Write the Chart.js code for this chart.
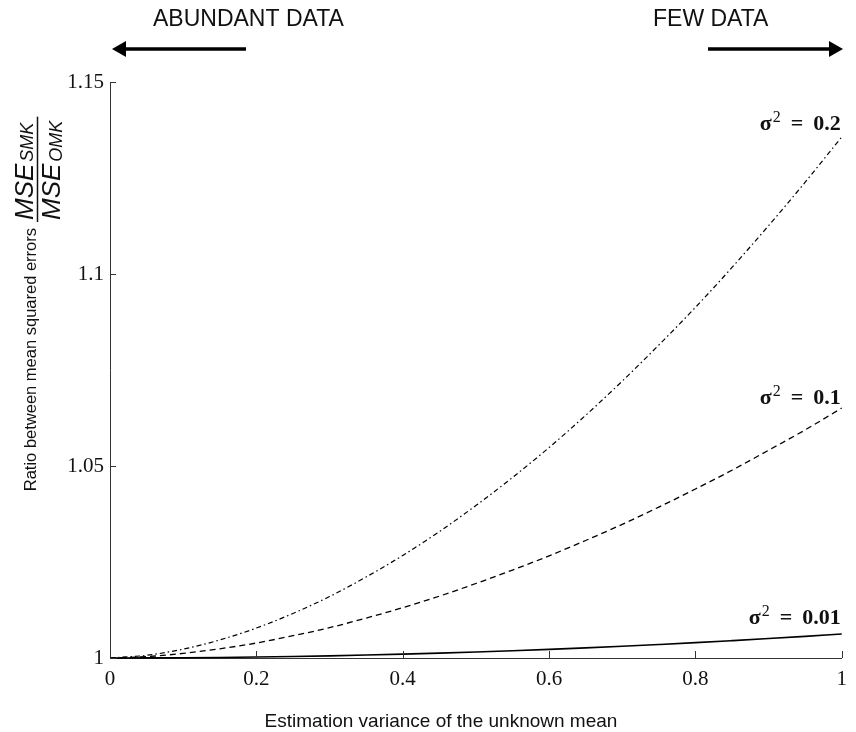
<!DOCTYPE html>
<html><head><meta charset="utf-8">
<script src="https://cdn.jsdelivr.net/npm/chart.js@4.4.1/dist/chart.umd.min.js"></script>
<style>html,body{margin:0;padding:0;background:#fff}#wrap{width:856px;height:732px;position:relative}</style>
</head><body><div id="wrap"><canvas id="c" width="856" height="732"></canvas></div>
<script>
// ---- data ----
const xValues = [0,0.05,0.1,0.15,0.2,0.25,0.3,0.35,0.4,0.45,0.5,0.55,0.6,0.65,0.7,0.75,0.8,0.85,0.9,0.95,1];
const ratioSigma02 = [1.0000,1.0007,1.0023,1.0047,1.0078,1.0116,1.0160,1.0211,1.0267,1.0329,1.0397,1.0470,1.0548,1.0632,1.0721,1.0815,1.0913,1.1017,1.1126,1.1239,1.1357];
const ratioSigma01 = [1.0000,1.00035,1.0012,1.0024,1.0039,1.0058,1.0079,1.0104,1.0131,1.0161,1.0194,1.0229,1.0266,1.0306,1.0348,1.0393,1.0440,1.0489,1.0541,1.0594,1.0651];
const ratioSigma001 = [1.0000,1.00002,1.00006,1.00014,1.00025,1.00039,1.00056,1.00077,1.0010,1.00127,1.00156,1.00189,1.00225,1.00264,1.00306,1.00352,1.0040,1.00452,1.00506,1.00564,1.00625];
const seriesSigmaValues = ['0.2','0.1','0.01'];
const xTickValues = [0,0.2,0.4,0.6,0.8,1];
const yTickValues = [1,1.05,1.1,1.15];
const xTitle = 'Estimation variance of the unknown mean';
const yTitle = 'Ratio between mean squared errors';
const leftNote = 'ABUNDANT DATA';
const rightNote = 'FEW DATA';

const pts = arr => xValues.map((x,i)=>({x:x,y:arr[i]}));
const INK = '#111';
const SERIF = '"Liberation Serif", "Times New Roman", serif';
const SANS = '"Liberation Sans", Arial, sans-serif';

const fmt = v => String(parseFloat(Number(v).toFixed(2)));

function drawSigmaLabel(ctx, rightX, baseline, val){
  ctx.save();
  ctx.fillStyle = INK;
  ctx.textBaseline = 'alphabetic';
  ctx.textAlign = 'left';
  const big = 'bold 22px ' + SERIF;
  const sup = '16px ' + SERIF;
  ctx.font = big;
  const wNum = ctx.measureText(val).width;
  const wEq = ctx.measureText('=').width;
  const wSig = ctx.measureText('σ').width;
  ctx.font = sup;
  const wSup = ctx.measureText('2').width;
  const gap = 10;
  let x = rightX - wNum;
  ctx.font = big; ctx.fillText(val, x, baseline);
  x -= gap + wEq; ctx.fillText('=', x, baseline);
  x -= gap + wSup; ctx.font = sup; ctx.fillText('2', x, baseline - 8);
  x -= wSig + 1; ctx.font = big; ctx.fillText('σ', x, baseline);
  ctx.restore();
}

function arrow(ctx, x1, x2, y, headLeft){
  ctx.save();
  ctx.strokeStyle = '#000'; ctx.fillStyle = '#000'; ctx.lineWidth = 3.5;
  const hl = 14, hh = 8;
  ctx.beginPath();
  if (headLeft){ ctx.moveTo(x1 + hl - 2, y); ctx.lineTo(x2, y); }
  else { ctx.moveTo(x1, y); ctx.lineTo(x2 - hl + 2, y); }
  ctx.stroke();
  ctx.beginPath();
  if (headLeft){ ctx.moveTo(x1, y); ctx.lineTo(x1 + hl, y - hh); ctx.lineTo(x1 + hl, y + hh); }
  else { ctx.moveTo(x2, y); ctx.lineTo(x2 - hl, y - hh); ctx.lineTo(x2 - hl, y + hh); }
  ctx.closePath(); ctx.fill();
  ctx.restore();
}

const decor = {
  id: 'decor',
  afterDraw(chart){
    const ctx = chart.ctx;
    const xs = chart.scales.x, ys = chart.scales.y;
    const ca = chart.chartArea;
    ctx.save();
    // inward tick marks
    ctx.strokeStyle = '#333'; ctx.lineWidth = 1;
    ctx.beginPath();
    yTickValues.forEach(v => { const p = Math.round(ys.getPixelForValue(v)) + 0.5; ctx.moveTo(ca.left, p); ctx.lineTo(ca.left + 6, p); });
    xTickValues.forEach(v => { const p = Math.round(xs.getPixelForValue(v)) + 0.5; ctx.moveTo(p, ca.bottom); ctx.lineTo(p, ca.bottom - 7); });
    ctx.stroke();

    // x title
    ctx.fillStyle = INK;
    ctx.font = '19px ' + SANS;
    ctx.textAlign = 'center'; ctx.textBaseline = 'alphabetic';
    ctx.fillText(xTitle, 441, 727);

    // top notes + arrows
    ctx.font = '23px ' + SANS;
    ctx.textAlign = 'left'; ctx.textBaseline = 'alphabetic';
    ctx.fillText(leftNote, 153, 26);
    ctx.fillText(rightNote, 653, 26);
    arrow(ctx, 112, 246, 49, true);
    arrow(ctx, 708, 843, 49, false);

    // y title (rotated) with fraction
    ctx.save();
    ctx.rotate(-Math.PI / 2);
    ctx.fillStyle = INK;
    ctx.font = '16.5px ' + SANS;
    ctx.textAlign = 'right'; ctx.textBaseline = 'alphabetic';
    ctx.fillText(yTitle, -228, 36);
    // fraction
    ctx.textAlign = 'left';
    ctx.font = 'italic 26px ' + SANS;
    const wM = ctx.measureText('MSE').width;
    ctx.font = 'italic 18px ' + SANS;
    const wS = Math.max(ctx.measureText('SMK').width, ctx.measureText('OMK').width);
    const u0 = -222, u1 = u0 + wM + wS + 8;
    ctx.strokeStyle = '#111'; ctx.lineWidth = 1.5;
    ctx.beginPath(); ctx.moveTo(u0, 37.5); ctx.lineTo(u1, 37.5); ctx.stroke();
    ctx.font = 'italic 26px ' + SANS;
    ctx.fillText('MSE', u0 + 2, 33);
    ctx.fillText('MSE', u0 + 2, 60);
    ctx.font = 'italic 18px ' + SANS;
    ctx.fillText('SMK', u0 + 4 + wM, 33);
    ctx.fillText('OMK', u0 + 4 + wM, 62);
    ctx.restore();

    // curve labels
    const xr = xs.getPixelForValue(1);
    drawSigmaLabel(ctx, xr - 1, ys.getPixelForValue(ratioSigma02[ratioSigma02.length-1]) - 7, seriesSigmaValues[0]);
    drawSigmaLabel(ctx, xr - 1, ys.getPixelForValue(ratioSigma01[ratioSigma01.length-1]) - 4, seriesSigmaValues[1]);
    drawSigmaLabel(ctx, xr - 1, ys.getPixelForValue(ratioSigma001[ratioSigma001.length-1]) - 10, seriesSigmaValues[2]);
    ctx.restore();
  }
};

const lineBase = { pointRadius: 0, borderColor: '#000', fill: false, cubicInterpolationMode: 'monotone', clip: false };

new Chart(document.getElementById('c'), {
  type: 'line',
  data: {
    datasets: [
      Object.assign({ label: 'σ² = ' + seriesSigmaValues[0], data: pts(ratioSigma02), borderWidth: 1.2, borderDash: [5, 3, 1.5, 3] }, lineBase),
      Object.assign({ label: 'σ² = ' + seriesSigmaValues[1], data: pts(ratioSigma01), borderWidth: 1.3, borderDash: [6, 4] }, lineBase),
      Object.assign({ label: 'σ² = ' + seriesSigmaValues[2], data: pts(ratioSigma001), borderWidth: 1.6 }, lineBase)
    ]
  },
  options: {
    responsive: false, animation: false, devicePixelRatio: 1,
    layout: { padding: { top: 82, right: 14, left: 0, bottom: 0 } },
    plugins: { legend: { display: false }, tooltip: { enabled: false } },
    scales: {
      x: {
        type: 'linear', min: 0, max: 1,
        afterBuildTicks: s => { s.ticks = xTickValues.map(v => ({ value: v })); },
        afterFit: s => { s.height = 74; },
        grid: { display: false, drawTicks: false, tickLength: 0 },
        border: { display: true, color: '#333', width: 1 },
        ticks: { color: INK, font: { family: SERIF, size: 21 }, padding: 9, maxRotation: 0, autoSkip: false, callback: v => fmt(v) }
      },
      y: {
        type: 'linear', min: 1, max: 1.15,
        afterBuildTicks: s => { s.ticks = yTickValues.map(v => ({ value: v })); },
        afterFit: s => { s.width = 110; },
        grid: { display: false, drawTicks: false, tickLength: 0 },
        border: { display: true, color: '#333', width: 1 },
        ticks: { color: INK, font: { family: SERIF, size: 21 }, padding: 6, autoSkip: false, callback: v => fmt(v) }
      }
    }
  },
  plugins: [decor]
});
</script></body></html>
